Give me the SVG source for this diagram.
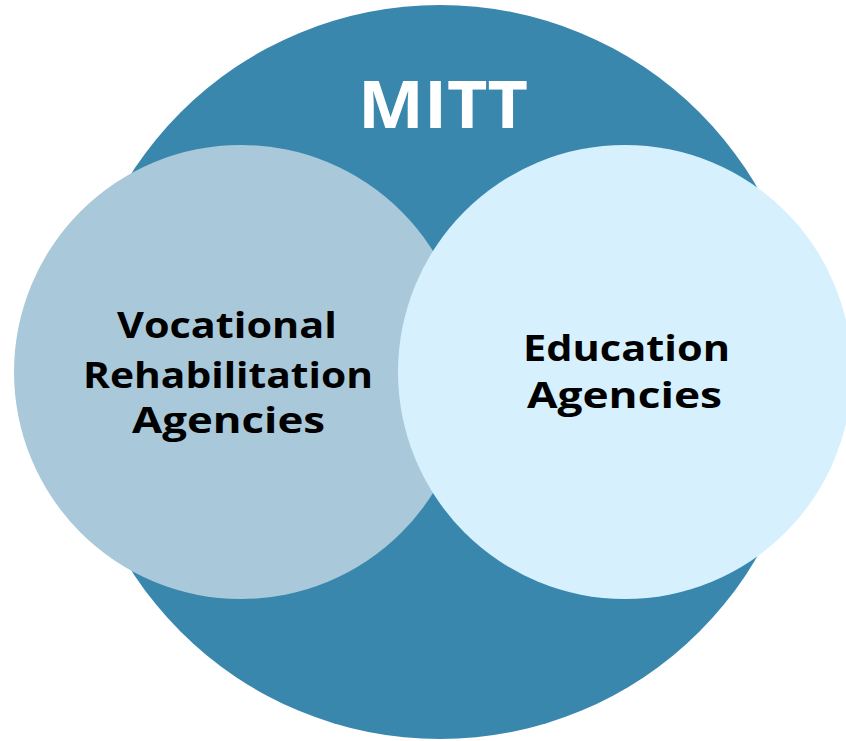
<svg xmlns="http://www.w3.org/2000/svg" width="846" height="741" viewBox="0 0 846 741">
<style>
.t{font-family:"Open Sans","DejaVu Sans",sans-serif;font-weight:700;text-anchor:middle}
.lbl{font-size:36px;fill:#000}
</style>
<rect width="846" height="741" fill="#fff"/>
<g id="mitt">
<circle cx="440" cy="372" r="367" fill="#3A87AD"/>
<text class="t" x="443" y="128" font-size="67" fill="#fff" textLength="170" lengthAdjust="spacingAndGlyphs">MITT</text>
</g>
<g id="vr">
<circle cx="241" cy="372" r="227" fill="#A9C9DA"/>
<text class="t lbl" x="227" y="338" textLength="220" lengthAdjust="spacingAndGlyphs">Vocational</text>
<text class="t lbl" x="228" y="388" textLength="290" lengthAdjust="spacingAndGlyphs">Rehabilitation</text>
<text class="t lbl" x="228.5" y="433" textLength="193" lengthAdjust="spacingAndGlyphs">Agencies</text>
</g>
<g id="edu">
<circle cx="625" cy="372" r="227" fill="#D6F0FD"/>
<text class="t lbl" x="626.5" y="361" textLength="207" lengthAdjust="spacingAndGlyphs">Education</text>
<text class="t lbl" x="624.5" y="408" textLength="195" lengthAdjust="spacingAndGlyphs">Agencies</text>
</g>
<g id="connectors"/>
</svg>
